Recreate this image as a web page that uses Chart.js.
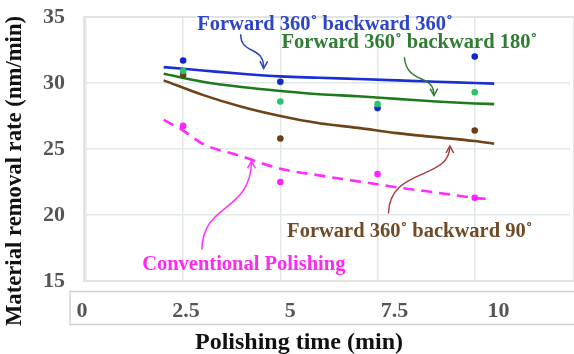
<!DOCTYPE html>
<html>
<head>
<meta charset="utf-8">
<script src="https://cdn.jsdelivr.net/npm/chart.js@4.4.1/dist/chart.umd.min.js"></script>
<style>
  html, body { margin: 0; padding: 0; background: #fff; }
  #wrap { width: 574px; height: 354px; }
</style>
</head>
<body>
<div id="wrap"><canvas id="chart"></canvas></div>
<script>
// measured removal rates (nm/min) at each polishing time (min)
const sampleTimes = [2.5, 5, 7.5, 10];
const mrrF360B360 = [31.7, 30.1, 28.1, 32.0];
const mrrF360B180 = [30.9, 28.6, 28.4, 29.3];
const mrrF360B90 = [30.6, 25.8, null, 26.4];
const mrrConventional = [26.75, 22.5, 23.1, 21.3];

// trend curves
const fitTimes = [2, 3, 4, 5, 6, 7, 8, 9, 10, 10.5];
const fitF360B360 = [31.2, 30.95, 30.7, 30.5, 30.4, 30.3, 30.2, 30.1, 30.0, 29.95];
const fitF360B180 = [30.7, 30.1, 29.7, 29.4, 29.15, 29.0, 28.8, 28.6, 28.45, 28.4];
const fitF360B90 = [30.2, 29.1, 28.2, 27.5, 26.95, 26.6, 26.2, 25.9, 25.6, 25.4];
const fitConvTimes = [2, 2.5, 3, 4, 5, 6, 7, 8, 9, 10, 10.4];
const fitConventional = [27.2, 26.4, 25.4, 24.45, 23.5, 23.0, 22.55, 22.1, 21.7, 21.3, 21.2];

// axis ticks
const xTickValues = [0, 2.5, 5, 7.5, 10];
const xTickLabels = ['0', '2.5', '5', '7.5', '10'];
const yTickValues = [15, 20, 25, 30, 35];

const serif = "'Liberation Serif', 'Times New Roman', serif";

// text labels and curly arrows, in data units
const notes = [
  { text: 'Forward 360˚ backward 360˚', x: 6.15, y: 34.39, color: '#2d45c8' },
  { text: 'Forward 360˚ backward 180˚', x: 8.32, y: 33.02, color: '#2e7d32' },
  { text: 'Forward 360˚ backward 90˚', x: 8.33, y: 18.74, color: '#6f4a26' },
  { text: 'Conventional Polishing', x: 4.06, y: 16.22, color: '#ff2af0' }
];
const arrows = [
  { color: '#2d45c8', pts: [[3.98, 33.7], [3.98, 32.1], [4.59, 32.86], [4.57, 31.11]] },
  { color: '#2e7d32', pts: [[8.19, 31.95], [8.26, 29.81], [8.95, 30.8], [8.95, 29.05]] },
  { color: '#a83a3a', pts: [[7.78, 20.11], [7.81, 23.7], [9.36, 22.56], [9.36, 25.23]] },
  { color: '#ff33ff', pts: [[2.98, 17.37], [3.01, 21.03], [4.23, 20.11], [4.26, 24.08]] }
];

const toXY = (xs, ys) => xs.map((x, i) => ({ x: x, y: ys[i] }));

function pointSet(ys, color) {
    return {
        data: toXY(sampleTimes, ys),
        xAxisID: 'x',
        showLine: false,
        pointRadius: 3.3,
        pointBorderWidth: 0,
        pointBackgroundColor: color,
        pointBorderColor: color
    };
}

function curveSet(xs, ys, color, dash) {
    return {
        data: toXY(xs, ys),
        xAxisID: 'x',
        showLine: true,
        pointRadius: 0,
        borderColor: color,
        borderWidth: 2.6,
        borderDash: dash || [],
        cubicInterpolationMode: 'monotone'
    };
}

const decorations = {
    id: 'decorations',
    beforeDraw(chart) {
        const { ctx, chartArea: a } = chart;
        ctx.save();
        // frame around the x tick labels
        ctx.strokeStyle = '#d2d2d2';
        ctx.lineWidth = 1.5;
        ctx.strokeRect(a.left - 14, a.bottom + 10.5, chart.width, 33);
        ctx.restore();
    },
    beforeDatasetsDraw(chart) {
        const { ctx, chartArea: a } = chart;
        ctx.save();
        ctx.strokeStyle = '#e2e4e4';
        ctx.lineWidth = 2;
        ctx.strokeRect(a.left, a.top, a.right - a.left + 4, a.bottom - a.top);
        ctx.restore();
    },
    afterDatasetsDraw(chart) {
        const { ctx, chartArea: a } = chart;
        const sx = chart.scales.x, sy = chart.scales.y;
        const px = p => [sx.getPixelForValue(p[0]), sy.getPixelForValue(p[1])];
        ctx.save();

        // curly arrows
        arrows.forEach(ar => {
            const [p0, p1, p2, p3] = ar.pts.map(px);
            ctx.strokeStyle = ar.color;
            ctx.lineWidth = 1.5;
            ctx.beginPath();
            ctx.moveTo(p0[0], p0[1]);
            ctx.bezierCurveTo(p1[0], p1[1], p2[0], p2[1], p3[0], p3[1]);
            ctx.stroke();
            const ang = Math.atan2(p3[1] - p2[1], p3[0] - p2[0]);
            const len = 8;
            ctx.beginPath();
            ctx.moveTo(p3[0] - len * Math.cos(ang - 0.5), p3[1] - len * Math.sin(ang - 0.5));
            ctx.lineTo(p3[0], p3[1]);
            ctx.lineTo(p3[0] - len * Math.cos(ang + 0.5), p3[1] - len * Math.sin(ang + 0.5));
            ctx.stroke();
        });

        // labels
        ctx.font = 'bold 20.5px ' + serif;
        ctx.textAlign = 'center';
        ctx.textBaseline = 'middle';
        notes.forEach(n => {
            const [x, y] = px([n.x, n.y]);
            ctx.fillStyle = n.color;
            ctx.fillText(n.text, x, y);
        });

        // axis titles
        ctx.fillStyle = '#111';
        ctx.font = 'bold 24px ' + serif;
        ctx.fillText('Polishing time (min)', a.left + 215, a.bottom + 62);
        ctx.translate(15, a.top + 154);
        ctx.rotate(-Math.PI / 2);
        ctx.font = 'bold 22.7px ' + serif;
        ctx.fillText('Material removal rate (nm/min)', 0, 0);
        ctx.restore();
    }
};

const ctx = document.getElementById('chart').getContext('2d');
const chart = new Chart(ctx, {
    type: 'scatter',
    data: {
        datasets: [
            pointSet(mrrF360B180, '#28c46a'),
            pointSet(mrrF360B360, '#1428c8'),
            pointSet(mrrF360B90, '#6b3e14'),
            pointSet(mrrConventional, '#ff22ff'),
            curveSet(fitTimes, fitF360B360, '#1a2ed6'),
            curveSet(fitTimes, fitF360B180, '#1f7a1f'),
            curveSet(fitTimes, fitF360B90, '#6e4317'),
            curveSet(fitConvTimes, fitConventional, '#ff2bff', [11, 7])
        ]
    },
    options: {
        responsive: true,
        maintainAspectRatio: false,
        animation: false,
        layout: { padding: 0 },
        plugins: {
            legend: { display: false },
            tooltip: { enabled: false }
        },
        scales: {
            x: {
                type: 'linear',
                min: -0.05,
                max: 12.45,
                afterBuildTicks: s => { s.ticks = xTickValues.map(v => ({ value: v })); },
                afterFit: s => { s.height = 0; },
                ticks: { display: false },
                grid: { color: '#e3e8e8', lineWidth: 1.5, drawTicks: false },
                border: { display: false }
            },
            xl: {
                type: 'linear',
                position: 'bottom',
                min: -0.095,
                max: 11.57,
                afterBuildTicks: s => { s.ticks = xTickValues.map(v => ({ value: v })); },
                afterFit: s => { s.height = 73; },
                grid: { display: false, drawTicks: false },
                border: { display: false },
                ticks: {
                    padding: 17,
                    labelOffset: -6,
                    color: '#555',
                    font: { family: serif, size: 22, weight: 'bold' },
                    callback: (v, i) => xTickLabels[i]
                }
            },
            y: {
                type: 'linear',
                min: 15,
                max: 35,
                afterBuildTicks: s => { s.ticks = yTickValues.map(v => ({ value: v })); },
                afterFit: s => { s.width = 84; s.paddingTop = 17; s.paddingBottom = 13; },
                grid: { color: '#e3e8e8', lineWidth: 1.5, drawTicks: false },
                border: { display: false },
                ticks: {
                    padding: 19,
                    color: '#555',
                    font: { family: serif, size: 22, weight: 'bold' }
                }
            }
        }
    },
    plugins: [decorations]
});
</script>
</body>
</html>
